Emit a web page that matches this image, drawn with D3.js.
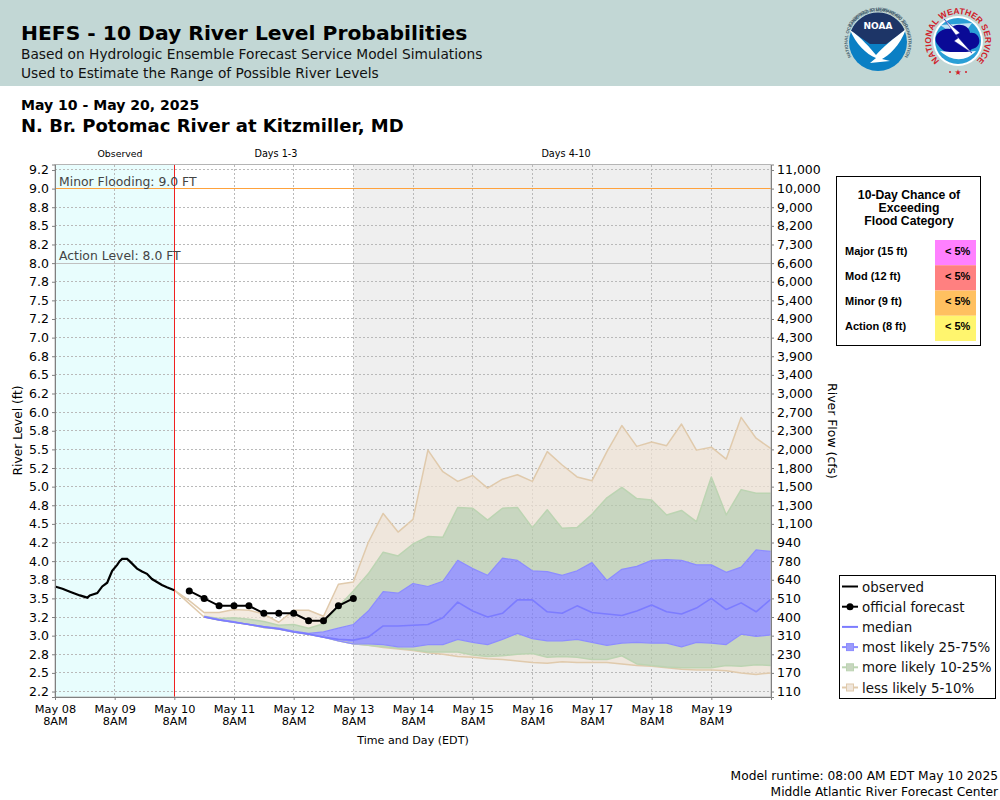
<!DOCTYPE html>
<html>
<head>
<meta charset="utf-8">
<script src="https://cdn.jsdelivr.net/npm/d3@7"></script>
<style>
  html, body { margin: 0; padding: 0; background: #fff; }
  svg { display: block; }
  text { font-family: 'DejaVu Sans', sans-serif; fill: #000; }
  .box text { font-family: 'Liberation Sans', sans-serif; font-weight: bold; }
</style>
</head>
<body>
<div id="chart"></div>
<script>
// stage ticks and what the page prints for them
const stageTicks = [9.25, 9, 8.75, 8.5, 8.25, 8, 7.75, 7.5, 7.25, 7, 6.75, 6.5,
  6.25, 6, 5.75, 5.5, 5.25, 5, 4.75, 4.5, 4.25, 4, 3.75, 3.5, 3.25, 3, 2.75,
  2.5, 2.25];
const stageLabels = ['9.2', '9.0', '8.8', '8.5', '8.2', '8.0', '7.8', '7.5',
  '7.2', '7.0', '6.8', '6.5', '6.2', '6.0', '5.8', '5.5', '5.2', '5.0', '4.8',
  '4.5', '4.2', '4.0', '3.8', '3.5', '3.2', '3.0', '2.8', '2.5', '2.2'];
const flowLabels = ['11,000', '10,000', '9,000', '8,200', '7,300', '6,600',
  '6,000', '5,400', '4,900', '4,300', '3,900', '3,400', '3,000', '2,700',
  '2,300', '2,000', '1,800', '1,500', '1,300', '1,100', '940', '780', '640',
  '510', '400', '310', '230', '170', '110'];
const dayLabels = ['May 08', 'May 09', 'May 10', 'May 11', 'May 12', 'May 13',
  'May 14', 'May 15', 'May 16', 'May 17', 'May 18', 'May 19'];

// hours after May 08 8AM
const obsHours = [0, 3, 6, 10, 13, 14, 17, 19, 21, 22, 23, 25, 26, 27, 29, 30,
  33, 35, 37, 39, 41, 43, 45, 48];
const obsLevels = [3.66, 3.63, 3.59, 3.54, 3.51, 3.54, 3.57, 3.66, 3.71, 3.79,
  3.87, 3.95, 4.00, 4.03, 4.03, 4.00, 3.90, 3.86, 3.83, 3.76, 3.72, 3.68, 3.65,
  3.61];

// 6 hourly from May 10 8AM, nulls where the band has not opened up yet
const q95 = [3.61, 3.47, 3.31, 3.31, 3.35, 3.34, 3.29, 3.18, 3.34, 3.34, 3.26,
  3.69, 3.72, 4.25, 4.64, 4.39, 4.56, 5.49, 5.20, 5.07, 5.15, 4.98, 5.10, 5.16,
  5.07, 5.47, 5.29, 5.13, 5.08, 5.47, 5.82, 5.54, 5.60, 5.55, 5.84, 5.49, 5.53,
  5.37, 5.93, 5.65, 5.51];
const q90 = [null, null, 3.26, 3.23, 3.24, 3.22, 3.19, 3.14, 3.15, 3.10, 3.16,
  3.39, 3.60, 3.83, 4.12, 4.07, 4.23, 4.33, 4.32, 4.72, 4.71, 4.55, 4.71, 4.72,
  4.45, 4.69, 4.44, 4.45, 4.63, 4.85, 4.99, 4.84, 4.82, 4.62, 4.68, 4.53, 5.13,
  4.62, 4.96, 4.91, 4.91];
const q75 = [null, null, 3.26, 3.22, 3.19, 3.15, 3.12, 3.10, 3.06, 3.03, 3.05,
  3.10, 3.15, 3.33, 3.59, 3.57, 3.70, 3.66, 3.73, 4.01, 3.90, 3.81, 4.04, 4.01,
  3.87, 3.86, 3.81, 3.87, 3.98, 3.74, 3.89, 3.93, 4.01, 4.02, 4.01, 3.95, 3.95,
  3.85, 3.92, 4.15, 4.13];
const median = [null, null, 3.25, 3.21, 3.18, 3.15, 3.12, 3.09, 3.05, 3.02,
  2.98, 2.95, 2.94, 2.98, 3.13, 3.13, 3.14, 3.15, 3.24, 3.45, 3.33, 3.25, 3.30,
  3.48, 3.48, 3.32, 3.30, 3.40, 3.31, 3.29, 3.27, 3.33, 3.41, 3.32, 3.29, 3.37,
  3.50, 3.35, 3.44, 3.32, 3.49];
const q25 = [null, null, 3.25, 3.21, 3.18, 3.15, 3.11, 3.09, 3.05, 3.02, 2.98,
  2.93, 2.89, 2.89, 2.88, 2.85, 2.85, 2.88, 2.88, 2.95, 2.91, 2.88, 2.95, 3.03,
  2.96, 2.93, 2.93, 2.95, 2.91, 2.87, 2.90, 2.91, 2.90, 2.90, 2.85, 2.91, 2.90,
  2.88, 3.02, 2.99, 3.01];
const q10 = [null, null, 3.25, 3.21, 3.18, 3.15, 3.11, 3.09, 3.05, 3.02, 2.98,
  2.93, 2.89, 2.87, 2.85, 2.83, 2.81, 2.78, 2.78, 2.78, 2.74, 2.72, 2.73, 2.75,
  2.76, 2.71, 2.72, 2.71, 2.68, 2.68, 2.73, 2.62, 2.60, 2.58, 2.57, 2.57, 2.57,
  2.60, 2.59, 2.61, 2.60];
const q05 = [3.61, 3.43, 3.25, 3.21, 3.18, 3.15, 3.11, 3.09, 3.05, 3.02, 2.98,
  2.93, 2.89, 2.87, 2.84, 2.82, 2.80, 2.77, 2.75, 2.72, 2.71, 2.69, 2.68, 2.66,
  2.64, 2.63, 2.65, 2.64, 2.64, 2.64, 2.62, 2.60, 2.59, 2.57, 2.55, 2.54, 2.54,
  2.53, 2.50, 2.48, 2.50];

// official forecast, 6 hourly from May 10 2PM
const official = [3.6, 3.5, 3.4, 3.4, 3.4, 3.3, 3.3, 3.3, 3.2, 3.2, 3.4, 3.5];

const floodRows = ['Major (15 ft)', 'Mod (12 ft)', 'Minor (9 ft)',
  'Action (8 ft)'];
const floodChance = ['< 5%', '< 5%', '< 5%', '< 5%'];
const floodColors = ['#ff80ff', '#ff8080', '#ffc060', '#fff56e'];
const legendLabels = ['observed', 'official forecast', 'median',
  'most likely 25-75%', 'more likely 10-25%', 'less likely 5-10%'];

const colors = {
  tan: 'rgb(239,227,212)', tanLine: '#e0caac',
  green: 'rgb(184,204,172)', greenLine: '#bcd4b2',
  blue: 'rgb(121,121,255)', blueLine: '#8c8cff',
  med: '#7c7cff', grid: '#b9b9b9',
};

const plotLeft = 55;
const plotRight = 771;
const plotTop = 164.5;
const plotBottom = 697;

const start = Date.UTC(2025, 4, 8, 8);
const hour = 3600000;
const at = (h) => new Date(start + h * hour);
const fcTime = (i) => at(48 + i * 6);

const x = d3.scaleUtc().domain([at(0), at(288)]).range([plotLeft, plotRight]);
const y = d3.scaleLinear().domain([2.1765, 9.3235]).range([plotBottom, plotTop]);

const svg = d3.select('#chart').append('svg')
    .attr('width', 1000)
    .attr('height', 800);

const label = (tx, ty, str, size, opts = {}) => {
  const t = svg.append('text')
      .attr('x', tx)
      .attr('y', ty)
      .attr('font-size', size)
      .attr('font-weight', opts.bold ? 'bold' : null)
      .attr('text-anchor', opts.anchor || 'start')
      .text(str);
  if (opts.fill) t.style('fill', opts.fill);
  return t;
};

// header
svg.append('rect').attr('width', 1000).attr('height', 86).attr('fill', '#c2d7d5');
label(21, 40, 'HEFS - 10 Day River Level Probabilities', 20.3, {bold: true});
label(21, 59, 'Based on Hydrologic Ensemble Forecast Service Model Simulations',
    13.75, {fill: '#111'});
label(21, 78, 'Used to Estimate the Range of Possible River Levels', 13.75,
    {fill: '#111'});
label(21, 110, 'May 10 - May 20, 2025', 14.05, {bold: true});
label(21, 131.5, 'N. Br. Potomac River at Kitzmiller, MD', 18, {bold: true});

// logos
const ringText = (cx, cy, r, str, size, fill, id, startDeg, sweep) => {
  const a0 = startDeg * Math.PI / 180;
  const a1 = (startDeg + sweep) * Math.PI / 180;
  const pt = (a) => [cx + r * Math.sin(a), cy - r * Math.cos(a)];
  svg.append('path')
      .attr('id', id)
      .attr('fill', 'none')
      .attr('d', `M${pt(a0)} A${r},${r} 0 ${Math.abs(sweep) > 180 ? 1 : 0} ` +
        `${sweep > 0 ? 1 : 0} ${pt(a1)}`);
  svg.append('text')
      .attr('font-size', size)
      .attr('font-weight', 'bold')
      .style('font-family', "'Liberation Sans'")
      .style('fill', fill)
      .append('textPath')
      .attr('href', `#${id}`)
      .attr('startOffset', '50%')
      .attr('text-anchor', 'middle')
      .text(str);
};

const noaa = svg.append('g').attr('transform', 'translate(878,42)');
noaa.append('circle').attr('r', 29).attr('fill', '#0a7fc4');
noaa.append('path').attr('d', 'M-27,-11 A29,29 0 0 1 27,-11 L8,2 L-8,2 Z')
    .attr('fill', '#1d3567');
noaa.append('path')
    .attr('d', 'M-28,-12 C-16,-4 -8,6 -2,13 C4,6 16,-4 28,-13 C22,4 10,14 ' +
      '4,17 L12,19 L-8,21 L-2,16 C-12,12 -22,2 -28,-12 Z')
    .attr('fill', '#fff');
noaa.append('text')
    .attr('y', -13)
    .attr('text-anchor', 'middle')
    .attr('font-size', 9)
    .attr('font-weight', 'bold')
    .style('fill', '#fff')
    .text('NOAA');
ringText(878, 42, 30.5, 'NATIONAL OCEANIC AND ATMOSPHERIC ADMINISTRATION', 4.4,
    '#46606e', 'noaaTop', -118, 236);
ringText(878, 42, 34.5, 'U.S. DEPARTMENT OF COMMERCE', 4.4, '#46606e', 'noaaBot',
    122, -244);

const nws = svg.append('g').attr('transform', 'translate(958,41)');
nws.append('circle').attr('r', 25).attr('fill', '#fff');
nws.append('circle').attr('r', 23).attr('fill', '#2a9fd6');
nws.append('path').attr('d', 'M-18,-16 L14,-18 L4,-4 L-6,-8 Z').attr('fill', '#bfe3f3');
nws.append('path')
    .attr('d', 'M-20,4 C-28,-6 -14,-14 -8,-12 C-2,-20 12,-16 12,-8 ' +
      'C22,-10 26,6 14,8 C6,16 -12,16 -20,4 Z')
    .attr('fill', '#0a0a96');
nws.append('path').attr('d', 'M-18,10 C-6,21 8,21 18,10 L8,11 L-8,11 Z')
    .attr('fill', '#fff');
nws.append('path')
    .attr('d', 'M-14,-22 L2,-8 L-2,-6 L14,12 L-4,0 L0,-3 Z')
    .attr('fill', '#fff')
    .attr('stroke', '#0a0a96')
    .attr('stroke-width', 0.5);
ringText(958, 41, 27, 'NATIONAL WEATHER SERVICE', 8.6, '#d0202a', 'nwsTop',
    -150, 300);
svg.append('g').selectAll('circle')
    .data([-8, 8])
    .join('circle')
    .attr('cx', (d) => 958 + d)
    .attr('cy', 72)
    .attr('r', 1)
    .attr('fill', '#d0202a');
label(958, 75, '★', 8, {anchor: 'middle', fill: '#d0202a'});

// shaded zones
const plot = svg.append('g');
plot.append('rect')
    .attr('x', x(at(0)))
    .attr('y', plotTop)
    .attr('width', x(at(48)) - x(at(0)))
    .attr('height', plotBottom - plotTop)
    .attr('fill', '#e8fdfd');
plot.append('rect')
    .attr('x', x(at(120)))
    .attr('y', plotTop)
    .attr('width', x(at(288)) - x(at(120)))
    .attr('height', plotBottom - plotTop)
    .attr('fill', '#efefef');

// grid
plot.append('g').selectAll('line')
    .data(stageTicks)
    .join('line')
    .attr('x1', plotLeft)
    .attr('x2', plotRight)
    .attr('y1', (d) => y(d))
    .attr('y2', (d) => y(d))
    .attr('stroke', colors.grid)
    .attr('stroke-dasharray', '2,2')
    .attr('shape-rendering', 'crispEdges');
plot.append('g').selectAll('line')
    .data(dayLabels)
    .join('line')
    .attr('x1', (d, i) => x(at(i * 24)))
    .attr('x2', (d, i) => x(at(i * 24)))
    .attr('y1', plotTop)
    .attr('y2', plotBottom)
    .attr('stroke', colors.grid)
    .attr('stroke-dasharray', '2,2')
    .attr('shape-rendering', 'crispEdges');

// ensemble bands, each ring only between its own two edges
const rings = [
  [q05, q10, colors.tan],
  [q90, q95, colors.tan],
  [q10, q25, colors.green],
  [q75, q90, colors.green],
  [q25, q75, colors.blue],
];
rings.forEach(([low, high, fill]) => {
  plot.append('path')
      .datum(d3.range(low.length))
      .attr('fill', fill)
      .attr('fill-opacity', 0.7)
      .attr('d', d3.area()
          .defined((i) => low[i] !== null && high[i] !== null)
          .x((i) => x(fcTime(i)))
          .y0((i) => y(low[i]))
          .y1((i) => y(high[i])));
});

const series = (values, stroke, width) => plot.append('path')
    .datum(values)
    .attr('fill', 'none')
    .attr('stroke', stroke)
    .attr('stroke-width', width)
    .attr('stroke-linejoin', 'round')
    .attr('d', d3.line()
        .defined((d) => d !== null)
        .x((d, i) => x(fcTime(i)))
        .y((d) => y(d)));

series(q95, colors.tanLine, 1.5);
series(q05, colors.tanLine, 1.5);
series(q90, colors.greenLine, 1.5);
series(q10, colors.greenLine, 1.5);
series(q75, colors.blueLine, 1.2);
series(q25, colors.blueLine, 1.2);
series(median, colors.med, 1.6);

// flood levels
plot.append('line')
    .attr('x1', plotLeft).attr('x2', plotRight)
    .attr('y1', y(9)).attr('y2', y(9))
    .attr('stroke', '#ffa23c')
    .attr('shape-rendering', 'crispEdges');
plot.append('line')
    .attr('x1', plotLeft).attr('x2', plotRight)
    .attr('y1', y(8)).attr('y2', y(8))
    .attr('stroke', '#c0c0c0')
    .attr('shape-rendering', 'crispEdges');
label(59, y(9) - 2.5, 'Minor Flooding: 9.0 FT', 12.4, {fill: '#444'});
label(59, y(8) - 3, 'Action Level: 8.0 FT', 12.4, {fill: '#444'});

// now line
plot.append('line')
    .attr('x1', x(at(48))).attr('x2', x(at(48)))
    .attr('y1', plotTop).attr('y2', plotBottom)
    .attr('stroke', '#f02020')
    .attr('shape-rendering', 'crispEdges');

// observed and official
plot.append('path')
    .datum(obsHours)
    .attr('fill', 'none')
    .attr('stroke', '#000')
    .attr('stroke-width', 2.2)
    .attr('d', d3.line()
        .x((h) => x(at(h)))
        .y((h, i) => y(obsLevels[i])));
const fcLine = d3.line().x((d, i) => x(fcTime(i + 1))).y((d) => y(d));
plot.append('path')
    .datum(official)
    .attr('fill', 'none')
    .attr('stroke', '#000')
    .attr('stroke-width', 2)
    .attr('d', fcLine);
plot.append('g').selectAll('circle')
    .data(official)
    .join('circle')
    .attr('cx', (d, i) => x(fcTime(i + 1)))
    .attr('cy', (d) => y(d))
    .attr('r', 3.5)
    .attr('fill', '#000');

// frame
plot.append('rect')
    .attr('x', plotLeft)
    .attr('y', plotTop)
    .attr('width', plotRight - plotLeft)
    .attr('height', plotBottom - plotTop)
    .attr('fill', 'none')
    .attr('stroke', '#b5b5b5');

// axes
const styleAxis = (g, size) => {
  g.selectAll('text').attr('font-size', size).style('font-family', "'DejaVu Sans'");
  g.selectAll('line').attr('stroke', '#808080');
  g.select('.domain').attr('stroke', '#808080');
};
svg.append('g')
    .attr('transform', `translate(${plotLeft},0)`)
    .call(d3.axisLeft(y).tickValues(stageTicks).tickSizeOuter(0).tickSize(3)
        .tickFormat((d, i) => stageLabels[i]))
    .call(styleAxis, 12.5);
svg.append('g')
    .attr('transform', `translate(${plotRight},0)`)
    .call(d3.axisRight(y).tickValues(stageTicks).tickSizeOuter(0).tickSize(3)
        .tickFormat((d, i) => flowLabels[i]))
    .call(styleAxis, 12.5);
const xAxis = svg.append('g')
    .attr('transform', `translate(0,${plotBottom})`)
    .call(d3.axisBottom(x)
        .tickValues(dayLabels.map((d, i) => at(i * 24)))
        .tickSizeOuter(0)
        .tickSize(3)
        .tickPadding(4.5)
        .tickFormat((d, i) => dayLabels[i]))
    .call(styleAxis, 11.3);
xAxis.selectAll('.tick')
    .append('text')
    .attr('y', 27.5)
    .attr('font-size', 11.3)
    .attr('text-anchor', 'middle')
    .style('fill', '#000')
    .text('8AM');

label(120, 157, 'Observed', 9.4, {anchor: 'middle'});
label(276, 157, 'Days 1-3', 9.7, {anchor: 'middle'});
label(566, 157, 'Days 4-10', 9.7, {anchor: 'middle'});
label(413, 744, 'Time and Day (EDT)', 11.1, {anchor: 'middle'});
label(0, 0, 'River Level (ft)', 12.2, {anchor: 'middle'})
    .attr('transform', 'translate(21.5,430.5) rotate(-90)');
label(0, 0, 'River Flow (cfs)', 12.45, {anchor: 'middle'})
    .attr('transform', 'translate(827.5,431) rotate(90)');
label(998, 780, 'Model runtime: 08:00 AM EDT May 10 2025', 12.25, {anchor: 'end'});
label(998, 796, 'Middle Atlantic River Forecast Center', 12.25, {anchor: 'end'});

// flood category box
const box = svg.append('g').attr('class', 'box');
box.append('rect')
    .attr('x', 836.5)
    .attr('y', 176.5)
    .attr('width', 144)
    .attr('height', 169)
    .attr('fill', '#fff')
    .attr('stroke', '#000');
['10-Day Chance of', 'Exceeding', 'Flood Category'].forEach((s, i) => {
  box.append('text')
      .attr('x', 909)
      .attr('y', 199 + i * 13)
      .attr('font-size', 12.2)
      .attr('text-anchor', 'middle')
      .text(s);
});
const rowY = d3.scaleBand().domain(floodRows).range([240, 341]);
box.selectAll('.cell')
    .data(floodRows)
    .join('rect')
    .attr('class', 'cell')
    .attr('x', 935)
    .attr('y', (d) => rowY(d))
    .attr('width', 41)
    .attr('height', rowY.bandwidth())
    .attr('fill', (d, i) => floodColors[i]);
box.selectAll('.row')
    .data(floodRows)
    .join('text')
    .attr('class', 'row')
    .attr('x', 845)
    .attr('y', (d) => rowY(d) + 14.5)
    .attr('font-size', 11)
    .text((d) => d);
box.selectAll('.chance')
    .data(floodChance)
    .join('text')
    .attr('class', 'chance')
    .attr('x', 945)
    .attr('y', (d, i) => rowY(floodRows[i]) + 14.5)
    .attr('font-size', 11)
    .text((d) => d);

// legend
svg.append('rect')
    .attr('x', 839.5)
    .attr('y', 575.5)
    .attr('width', 156)
    .attr('height', 123)
    .attr('fill', '#fff')
    .attr('stroke', '#000');
const legendLine = ['#000', '#000', colors.med, colors.blueLine,
  colors.greenLine, colors.tanLine];
const legendFill = [null, null, null, '#9c9cfa', '#c8d6c0', '#efe6dc'];
const legendY = (i) => 586.5 + i * 20.2;
legendLabels.forEach((s, i) => {
  svg.append('line')
      .attr('x1', 842)
      .attr('x2', 858)
      .attr('y1', legendY(i))
      .attr('y2', legendY(i))
      .attr('stroke', legendLine[i])
      .attr('stroke-width', 2);
  if (i === 1) {
    svg.append('circle')
        .attr('cx', 850).attr('cy', legendY(i)).attr('r', 3.5).attr('fill', '#000');
  }
  if (legendFill[i]) {
    svg.append('rect')
        .attr('x', 846.5)
        .attr('y', legendY(i) - 3.5)
        .attr('width', 7)
        .attr('height', 7)
        .attr('fill', legendFill[i])
        .attr('stroke', legendLine[i]);
  }
  label(862, legendY(i) + 5, s, 13.4, {fill: '#111'});
});
</script>
</body>
</html>
